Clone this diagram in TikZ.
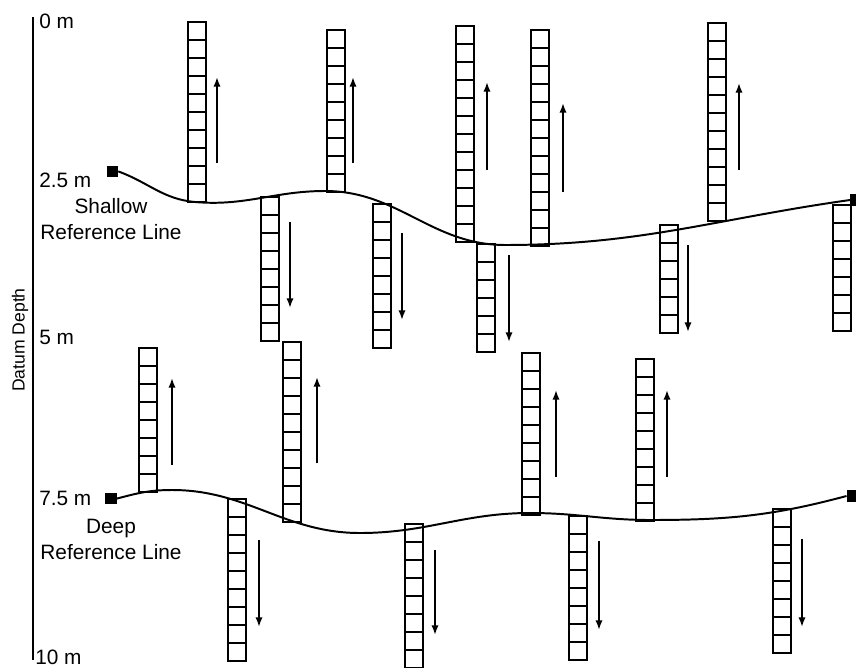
\documentclass[tikz,border=0pt]{standalone}
\usepackage{fontspec}
\setmainfont{Liberation Sans}
\usetikzlibrary{arrows.meta}
\tikzset{
  cell/.style={draw,line width=1.9pt},
  refline/.style={line width=1.4pt},
  flow/.style={line width=1.3pt,-{Latex[length=2.4mm,width=1.8mm]}},
  anchorsq/.style={fill=black,minimum size=2.8mm,inner sep=0pt},
  depthlbl/.style={anchor=west,inner sep=0pt,font=\fontsize{14.8}{16}\selectfont},
  linetext/.style={align=center,inner sep=0pt,font=\fontsize{14.8}{18.5}\selectfont}
}

\begin{document}
\begin{tikzpicture}
\useasboundingbox (0,0) rectangle (21.4,16.675);
% depth axis
\draw[line width=1.5pt] (0.825,16.25) -- (0.825,0.175);
\node[rotate=90,font=\fontsize{12.5}{14}\selectfont] (datum) at (0.5,8.175) {Datum Depth};
\node[depthlbl] (d0) at (0.975,16.15) {0 m};
\node[depthlbl] (d25) at (0.975,12.175) {2.5 m};
\node[depthlbl] (d5) at (0.975,8.25) {5 m};
\node[depthlbl] (d75) at (0.975,4.225) {7.5 m};
\node[depthlbl] (d10) at (0.875,0.25) {10 m};
% shallow reference line
\node[anchorsq] (shalL) at (2.81,12.39) {};
\node[anchorsq] (shalR) at (21.4,11.675) {};
\draw[refline] (shalL.east) to[out=-20,in=175] (4.875,11.625) to[out=-5,in=180] (8.125,11.9)
  to[out=0,in=180] (12.625,10.55) to[out=0,in=188] (shalR.west);
\node[linetext] (shaltext) at (2.775,11.21) {Shallow\\Reference Line};
% deep reference line
\node[anchorsq] (deepL) at (2.775,4.21) {};
\node[anchorsq] (deepR) at (21.31,4.275) {};
\draw[refline] (deepL.east) to[out=15,in=180] (4.3,4.425) to[out=0,in=180] (9.0,3.35)
  to[out=0,in=180] (13.25,3.85) to[out=0,in=180] (16.25,3.675) to[out=0,in=195] (deepR.west);
\node[linetext] (deeptext) at (2.775,3.19) {Deep\\Reference Line};
% columns: x / y on the line / cells / up (1) or down (-1)
\foreach \x/\y/\n/\d in {4.7/11.625/10/1, 8.175/11.875/9/1, 11.4/10.625/12/1, 13.275/10.525/12/1,
  17.7/11.15/11/1, 6.525/11.75/8/-1, 9.325/11.575/8/-1, 11.925/10.575/6/-1, 16.5/11.05/6/-1,
  20.825/11.55/7/-1, 3.475/4.375/8/1, 7.075/3.625/10/1, 13.05/3.8/9/1, 15.9/3.65/9/1,
  5.7/4.2/9/-1, 10.125/3.575/8/-1, 14.225/3.775/8/-1, 19.325/3.95/8/-1}
  \foreach \k in {1,...,\n}
    \draw[cell] (\x,{\y+\d*(\k-1)*0.45}) rectangle ++(0.45,{\d*0.45});
% movement arrows
\foreach \x/\a/\b in {5.425/12.6/14.75, 8.825/12.6/14.75, 12.175/12.425/14.625, 14.075/11.875/14.1,
  18.475/12.425/14.6, 7.25/11.125/8.975, 10.05/10.85/8.675, 12.725/10.3/8.125, 17.2/10.55/8.375,
  4.3/5.05/7.225, 7.925/5.1/7.25, 13.9/4.75/6.925, 16.675/4.75/6.925,
  6.475/3.175/1.0, 10.875/2.925/0.8, 14.975/3.15/0.925, 20.05/3.2/1.0}
  \draw[flow] (\x,\a) -- (\x,\b);
\end{tikzpicture}
\end{document}
